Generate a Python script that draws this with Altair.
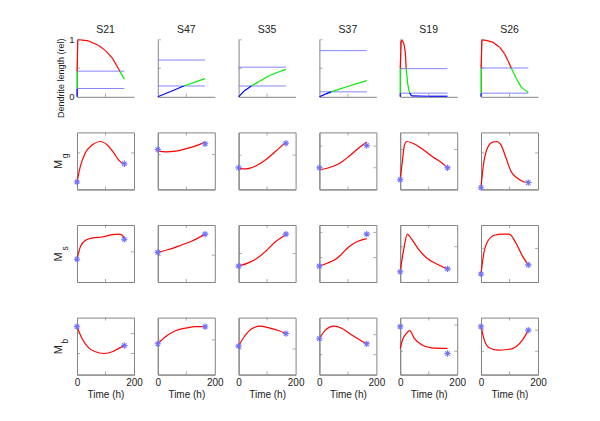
import altair as alt
import pandas as pd

names = ["S21", "S47", "S35", "S37", "S19", "S26"]

# ---- Row 1: dendrite length (rel) ----
len_t = {
    "S21": [0, 0, 0, 3, 12, 41, 76, 100, 124, 147, 150, 166],
    "S47": [0, 45, 91, 166],
    "S35": [0, 19, 45, 72, 107, 142, 166],
    "S37": [0, 21, 41, 104, 166],
    "S19": [0, 0, 0, 3.5, 7, 13, 18, 21, 27, 33, 40, 100, 166],
    "S26": [0, 0, 0, 3.5, 18, 41, 65, 82, 94, 106, 124, 141, 159, 166],
}
len_v = {
    "S21": [0, 0.146, 0.45, 1.0, 1.0, 0.98, 0.90, 0.81, 0.68, 0.48, 0.45, 0.31],
    "S47": [0, 0.093, 0.19, 0.32],
    "S35": [0, 0.10, 0.19, 0.27, 0.37, 0.44, 0.48],
    "S37": [0, 0.047, 0.087, 0.19, 0.285],
    "S19": [0, 0.064, 0.494, 0.98, 0.99, 0.93, 0.78, 0.494, 0.20, 0.064, 0.017, 0.01, 0.01],
    "S26": [0, 0.064, 0.506, 1.0, 0.99, 0.96, 0.87, 0.76, 0.64, 0.506, 0.32, 0.17, 0.10, 0.076],
}
len_lo = {"S21": 0.146, "S47": 0.19, "S35": 0.19, "S37": 0.087, "S19": 0.064, "S26": 0.064}
len_hi = {"S21": 0.45, "S47": 0.645, "S35": 0.52, "S37": 0.81, "S19": 0.494, "S26": 0.506}
thr_start, thr_end = 0, 166

# ---- Rows 2-4: M_g, M_s, M_b (relative position inside each panel) ----
row_subs = ["g", "s", "b"]
curve_t = {
    "g": {
        "S21": [0, 12, 29, 53, 82, 106, 129, 147, 166],
        "S47": [0, 28, 62, 97, 131, 166],
        "S35": [0, 25, 60, 95, 130, 166],
        "S37": [0, 33, 68, 104, 139, 166],
        "S19": [0, 7, 15, 23, 44, 80, 115, 150, 166],
        "S26": [0, 8, 23, 41, 55, 70, 88, 105, 129, 152, 166],
    },
    "s": {
        "S21": [0, 12, 29, 53, 88, 124, 147, 159, 166],
        "S47": [0, 39, 79, 120, 166],
        "S35": [0, 36, 66, 95, 130, 166],
        "S37": [0, 27, 54, 74, 104, 133, 166],
        "S19": [0, 12, 25, 39, 62, 91, 126, 166],
        "S26": [0, 8, 23, 47, 76, 99, 123, 146, 166],
    },
    "b": {
        "S21": [0, 18, 41, 65, 94, 124, 147, 166],
        "S47": [0, 28, 62, 102, 131, 166],
        "S35": [0, 19, 48, 77, 107, 142, 166],
        "S37": [0, 21, 51, 80, 115, 145, 166],
        "S19": [0, 9, 21, 33, 50, 74, 109, 166],
        "S26": [0, 12, 29, 59, 94, 123, 146, 166],
    },
}
curve_v = {
    "g": {
        "S21": [0.13, 0.41, 0.64, 0.78, 0.84, 0.78, 0.64, 0.51, 0.44],
        "S47": [0.67, 0.66, 0.67, 0.71, 0.76, 0.83],
        "S35": [0.37, 0.36, 0.41, 0.52, 0.67, 0.83],
        "S37": [0.34, 0.38, 0.45, 0.58, 0.73, 0.83],
        "S19": [0.17, 0.47, 0.78, 0.84, 0.81, 0.70, 0.57, 0.45, 0.38],
        "S26": [0.03, 0.41, 0.73, 0.83, 0.84, 0.78, 0.55, 0.32, 0.19, 0.13, 0.12],
    },
    "s": {
        "S21": [0.40, 0.62, 0.73, 0.77, 0.79, 0.83, 0.84, 0.82, 0.75],
        "S47": [0.52, 0.57, 0.64, 0.72, 0.84],
        "S35": [0.28, 0.34, 0.42, 0.54, 0.71, 0.83],
        "S37": [0.28, 0.33, 0.39, 0.47, 0.62, 0.71, 0.76],
        "S19": [0.18, 0.56, 0.84, 0.76, 0.59, 0.43, 0.32, 0.23],
        "S26": [0.14, 0.45, 0.71, 0.82, 0.84, 0.84, 0.68, 0.45, 0.30],
    },
    "b": {
        "S21": [0.84, 0.63, 0.47, 0.40, 0.37, 0.40, 0.46, 0.51],
        "S47": [0.54, 0.67, 0.77, 0.82, 0.84, 0.84],
        "S35": [0.50, 0.66, 0.81, 0.85, 0.82, 0.77, 0.72],
        "S37": [0.63, 0.78, 0.85, 0.81, 0.69, 0.60, 0.54],
        "S19": [0.46, 0.62, 0.72, 0.77, 0.63, 0.53, 0.47, 0.46],
        "S26": [0.84, 0.60, 0.47, 0.43, 0.44, 0.49, 0.61, 0.78],
    },
}
marker_t = [0, 166]
marker_v = {
    "g": {"S21": [0.13, 0.45], "S47": [0.70, 0.80], "S35": [0.38, 0.81],
          "S37": [0.38, 0.77], "S19": [0.17, 0.38], "S26": [0.03, 0.12]},
    "s": {"S21": [0.40, 0.75], "S47": [0.52, 0.84], "S35": [0.28, 0.84],
          "S37": [0.28, 0.84], "S19": [0.18, 0.23], "S26": [0.14, 0.30]},
    "b": {"S21": [0.84, 0.51], "S47": [0.54, 0.84], "S35": [0.50, 0.72],
          "S37": [0.63, 0.54], "S19": [0.84, 0.37], "S26": [0.84, 0.78]},
}
tick_v = {
    "g": {"S21": [0.64], "S47": [0.61], "S35": [0.60], "S37": [0.38, 0.76], "S19": [0.70], "S26": [0.64]},
    "s": {"S21": [0.53], "S47": [0.47], "S35": [0.50], "S37": [0.43, 0.87], "S19": [0.62], "S26": [0.59]},
    "b": {"S21": [0.37, 0.72], "S47": [0.61], "S35": [0.45], "S37": [0.35, 0.70], "S19": [0.41, 0.87], "S26": [0.41, 0.78]},
}
top_ticks_y = [0.5, 1.0]
inner_ticks_x = [100]
x_labels = [0, 100, 200]
y_labels_top = [0, 0.5, 1]

# ---- styling ----
W, H = 57, 57
AX = "#858585"
TXT = "#222222"
FONT = "Liberation Sans"
xs = alt.Scale(domain=[0, 200], nice=False, zero=False)
ys = alt.Scale(domain=[0, 1], nice=False, zero=False)
ASTER = "M-1,0L1,0M0,-1L0,1M-0.7,-0.7L0.7,0.7M-0.7,0.7L0.7,-0.7"


def x_axis(last):
    if last:
        return alt.Axis(values=x_labels, ticks=False, grid=False, domainColor=AX,
                        labelFontSize=10, labelPadding=3, labelFlush=False, labelOverlap=False,
                        labelColor=TXT, labelFont=FONT, title="Time (h)", titleFontSize=10,
                        titleFontWeight="normal", titleFont=FONT, titleColor=TXT, titlePadding=2)
    return alt.Axis(labels=False, ticks=False, grid=False, domainColor=AX, title=None)


def tick_layers(ylist, right_side):
    layers = []
    dfy = pd.DataFrame({"v": ylist})
    dfx = pd.DataFrame({"t": inner_ticks_x})
    xpos = [1.5] + ([W - 1.5] if right_side else [])
    for xp in xpos:
        layers.append(alt.Chart(dfy).mark_tick(orient="horizontal", size=3, thickness=1, color=AX)
                      .encode(y=alt.Y("v:Q", scale=ys), x=alt.value(xp)))
    ypos = [H - 1.5] + ([1.5] if right_side else [])
    for yp in ypos:
        layers.append(alt.Chart(dfx).mark_tick(orient="vertical", size=3, thickness=1, color=AX)
                      .encode(x=alt.X("t:Q", scale=xs), y=alt.value(yp)))
    return layers


def top_panel(i, name):
    t, v = len_t[name], len_v[name]
    lo, hi = len_lo[name], len_hi[name]
    rows = []
    for k in range(len(t) - 1):
        mid = (v[k] + v[k + 1]) / 2
        ph = "blue" if mid < lo else ("green" if mid < hi else "red")
        rows.append({"seg": k, "t": t[k], "v": v[k], "phase": ph})
        rows.append({"seg": k, "t": t[k + 1], "v": v[k + 1], "phase": ph})
    seg = pd.DataFrame(rows)
    thr = pd.DataFrame({"t0": [thr_start, thr_start], "t1": [thr_end, thr_end], "v": [lo, hi]})
    if i == 0:
        yax = alt.Axis(values=y_labels_top, format="~g", ticks=False, grid=False, domainColor=AX,
                       labelFontSize=9.5, labelPadding=3, labelColor=TXT, labelFont=FONT,
                       title="Dendrite length (rel)", titleFontSize=9, titleFontWeight="normal",
                       titleFont=FONT, titleColor=TXT, titlePadding=3, titleY=38, titleAlign="center")
    else:
        yax = alt.Axis(labels=False, ticks=False, grid=False, domainColor=AX, title=None)
    X = alt.X("t0:Q", scale=xs, axis=x_axis(False))
    Y = alt.Y("v:Q", scale=ys, axis=yax)
    rules = alt.Chart(thr).mark_rule(color="#8484ff", strokeWidth=1).encode(x=X, x2="t1:Q", y=Y)
    lines = alt.Chart(seg).mark_line(strokeWidth=1.2).encode(
        x=alt.X("t:Q", scale=xs, axis=x_axis(False)),
        y=Y,
        detail="seg:N",
        color=alt.Color("phase:N", scale=alt.Scale(domain=["blue", "green", "red"],
                                                   range=["#0000ff", "#00ee00", "#ff0000"]), legend=None),
    )
    head = alt.Chart(pd.DataFrame({"name": [name]})).mark_text(
        fontSize=10.5, font=FONT, color=TXT, align="center", baseline="alphabetic"
    ).encode(text="name:N", x=alt.value(W / 2), y=alt.value(-7))
    layers = [rules, lines] + tick_layers(top_ticks_y, False) + [head]
    return alt.layer(*layers).properties(width=W, height=H, view=alt.ViewBackground(stroke=None))


def low_panel(r, i, name):
    sub = row_subs[r]
    last = r == 2
    cdf = pd.DataFrame({"t": curve_t[sub][name], "v": curve_v[sub][name]})
    mdf = pd.DataFrame({"t": marker_t, "v": marker_v[sub][name]})
    X = alt.X("t:Q", scale=xs, axis=x_axis(last))
    Y = alt.Y("v:Q", scale=ys, axis=alt.Axis(labels=False, ticks=False, grid=False, domainColor=AX, title=None))
    line = alt.Chart(cdf).mark_line(color="#ff0000", strokeWidth=1.2, interpolate="monotone").encode(x=X, y=Y)
    pts = alt.Chart(mdf).mark_point(shape=ASTER, filled=False, color="#7272ff", size=40,
                                    strokeWidth=1.1, opacity=1).encode(x=X, y=Y)
    layers = [line, pts] + tick_layers(tick_v[sub][name], True)
    if i == 0:
        lab = pd.DataFrame({"m": ["M"], "s": [sub]})
        layers.append(alt.Chart(lab).mark_text(angle=270, fontSize=11, font=FONT, color=TXT,
                                               align="center", baseline="middle")
                      .encode(text="m:N", x=alt.value(-18), y=alt.value(H / 2 + 3.5)))
        layers.append(alt.Chart(lab).mark_text(angle=270, fontSize=8.5, font=FONT, color=TXT,
                                               align="center", baseline="middle")
                      .encode(text="s:N", x=alt.value(-12.5), y=alt.value(H / 2 - 5)))
    return alt.layer(*layers).properties(width=W, height=H, view=alt.ViewBackground(stroke=AX))


panels = [top_panel(i, n) for i, n in enumerate(names)]
for r in range(3):
    panels += [low_panel(r, i, n) for i, n in enumerate(names)]

chart = (
    alt.concat(*panels, columns=6, spacing=alt.RowColnumber(row=35.6, column=23.8), bounds="flush")
    .properties(padding={"left": 44, "top": 16.8, "right": 5, "bottom": 5}, background="white")
    .configure_view(stroke=None)
)

chart.save("out.html", embed_options={"renderer": "svg", "actions": False})
